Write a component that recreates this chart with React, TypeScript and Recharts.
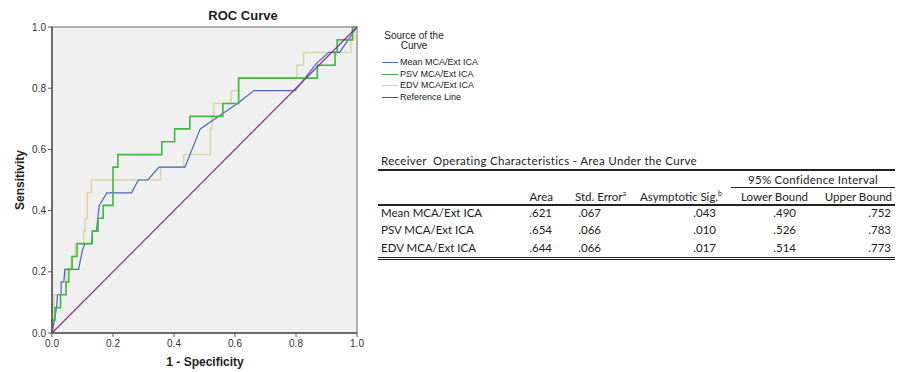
import { LineChart, Line, XAxis, YAxis, CartesianGrid, ReferenceArea } from 'recharts';

// ROC points (1 - specificity, sensitivity)
const meanFpr = [0, 0.015, 0.018, 0.03, 0.03, 0.039, 0.042, 0.087, 0.1, 0.108, 0.13, 0.133, 0.146, 0.15, 0.155, 0.18, 0.261, 0.283, 0.314, 0.351, 0.436, 0.486, 0.608, 0.662, 0.797, 0.868, 0.908, 0.943, 0.971, 1];
const meanTpr = [0, 0.083, 0.125, 0.125, 0.167, 0.167, 0.208, 0.208, 0.271, 0.292, 0.292, 0.333, 0.333, 0.375, 0.417, 0.458, 0.458, 0.5, 0.5, 0.542, 0.542, 0.667, 0.75, 0.792, 0.792, 0.882, 0.917, 0.917, 0.958, 1];

const psvFpr = [0, 0, 0.01, 0.028, 0.046, 0.055, 0.066, 0.082, 0.132, 0.151, 0.168, 0.2, 0.216, 0.36, 0.402, 0.452, 0.56, 0.612, 0.87, 0.928, 0.935, 0.985, 1];
const psvTpr = [0, 0.042, 0.083, 0.125, 0.167, 0.208, 0.25, 0.292, 0.333, 0.375, 0.417, 0.542, 0.583, 0.625, 0.667, 0.708, 0.75, 0.833, 0.875, 0.917, 0.958, 1, 1];

const edvFpr = [0, 0.006, 0.046, 0.063, 0.076, 0.104, 0.109, 0.116, 0.129, 0.356, 0.432, 0.519, 0.524, 0.53, 0.587, 0.611, 0.803, 0.825, 0.98, 0.99, 1];
const edvTpr = [0, 0.125, 0.208, 0.25, 0.292, 0.333, 0.375, 0.458, 0.5, 0.542, 0.583, 0.667, 0.708, 0.75, 0.792, 0.833, 0.875, 0.917, 0.958, 1, 1];

const refFpr = [0, 1];
const refTpr = [0, 1];

const axisTicks = [0, 0.2, 0.4, 0.6, 0.8, 1];

// AUC table
const rowNames = ['Mean MCA/Ext ICA', 'PSV MCA/Ext ICA', 'EDV MCA/Ext ICA'];
const colHeaders = ['Area', 'Std. Error', 'Asymptotic Sig.', 'Lower Bound', 'Upper Bound'];
const aucArea = [0.621, 0.654, 0.644];
const aucStdErr = [0.067, 0.066, 0.066];
const aucSig = [0.043, 0.01, 0.017];
const aucLower = [0.49, 0.526, 0.514];
const aucUpper = [0.752, 0.783, 0.773];

const legendItems = [
    { name: 'Mean MCA/Ext ICA', color: '#4a66c4' },
    { name: 'PSV MCA/Ext ICA', color: '#3dba3d' },
    { name: 'EDV MCA/Ext ICA', color: '#d9d6a6' },
    { name: 'Reference Line', color: '#8c2f8c' },
];

const toPoints = (xs: number[], ys: number[]) => xs.map((x, i) => ({ x, y: ys[i] }));
const fmt = (v: number) => v.toFixed(3).replace(/^0/, '');

const arial = '"Liberation Sans", Arial, sans-serif';
const tableFont = 'Lato, "Open Sans", sans-serif';

export default function App() {
    const cols = [
        { vals: aucArea, right: 552, headRight: 553 },
        { vals: aucStdErr, right: 601, headRight: 626 },
        { vals: aucSig, right: 716, headRight: 722 },
        { vals: aucLower, right: 796, headRight: 808 },
        { vals: aucUpper, right: 891, headRight: 892 },
    ];
    const rowY = [206, 223, 241];

    return (
        <div style={{ position: 'absolute', left: 0, top: 0, width: 900, height: 372, background: '#fff', fontFamily: arial }}>
            <div style={{ position: 'absolute', left: 243, top: 8, transform: 'translateX(-50%)', fontWeight: 'bold', fontSize: 13, color: '#222', whiteSpace: 'nowrap' }}>
                ROC Curve
            </div>
            <div style={{ position: 'absolute', left: 20, top: 180, transform: 'translate(-50%, -50%) rotate(-90deg)', fontWeight: 'bold', fontSize: 12, color: '#222', whiteSpace: 'nowrap' }}>
                Sensitivity
            </div>
            <div style={{ position: 'absolute', left: 205, top: 355, transform: 'translateX(-50%)', fontWeight: 'bold', fontSize: 12, color: '#222', whiteSpace: 'nowrap' }}>
                1 - Specificity
            </div>

            <div style={{ position: 'absolute', left: 0, top: 0 }}>
                <LineChart width={370} height={372} margin={{ top: 27, right: 13, bottom: 0, left: 0 }}>
                    <CartesianGrid horizontal={false} vertical={false} fill="#f0f0f0" />
                    <ReferenceArea x1={0} x2={1} y1={0} y2={1} fill="none" stroke="#9a9a9a" strokeWidth={1.5} ifOverflow="visible" />
                    <XAxis
                        dataKey="x"
                        type="number"
                        domain={[0, 1]}
                        ticks={axisTicks}
                        height={39}
                        tickSize={4}
                        tickMargin={3}
                        tickFormatter={(v: number) => v.toFixed(1)}
                        tick={{ fill: '#333', fontSize: 10, fontFamily: arial }}
                        axisLine={{ stroke: '#555', strokeWidth: 1.5 }}
                        tickLine={{ stroke: '#555' }}
                    />
                    <YAxis
                        dataKey="y"
                        type="number"
                        domain={[0, 1]}
                        ticks={axisTicks}
                        width={52}
                        tickSize={4}
                        tickMargin={2}
                        tickFormatter={(v: number) => v.toFixed(1)}
                        tick={{ fill: '#333', fontSize: 10, fontFamily: arial }}
                        axisLine={{ stroke: '#555', strokeWidth: 1.5 }}
                        tickLine={{ stroke: '#555' }}
                    />
                    <Line data={toPoints(edvFpr, edvTpr)} dataKey="y" type="stepAfter" stroke={legendItems[2].color} strokeWidth={1.5} dot={false} isAnimationActive={false} />
                    <Line data={toPoints(meanFpr, meanTpr)} dataKey="y" type="linear" stroke={legendItems[0].color} strokeWidth={1.2} dot={false} isAnimationActive={false} />
                    <Line data={toPoints(psvFpr, psvTpr)} dataKey="y" type="stepAfter" stroke={legendItems[1].color} strokeWidth={1.6} dot={false} isAnimationActive={false} />
                    <Line data={toPoints(refFpr, refTpr)} dataKey="y" type="linear" stroke={legendItems[3].color} strokeWidth={1.2} dot={false} isAnimationActive={false} />
                </LineChart>
            </div>

            {/* legend */}
            <div style={{ position: 'absolute', left: 383, top: 31, width: 62, textAlign: 'center', fontSize: 10, lineHeight: '10px', color: '#222' }}>
                Source of the<br />Curve
            </div>
            {legendItems.map((it, i) => (
                <div key={it.name} style={{ position: 'absolute', left: 382, top: 57 + i * 11.7, display: 'flex', alignItems: 'center', fontSize: 9, lineHeight: '11px', color: '#222', whiteSpace: 'nowrap' }}>
                    <span style={{ display: 'inline-block', width: 16, height: 1.2, background: it.color, marginRight: 2 }} />
                    {it.name}
                </div>
            ))}

            {/* AUC table */}
            <div style={{ position: 'absolute', left: 0, top: 0, width: 900, height: 372, fontFamily: tableFont, fontSize: 11.5, color: '#222' }}>
                <div style={{ position: 'absolute', left: 381, top: 154, whiteSpace: 'pre', letterSpacing: 0.33 }}>Receiver  Operating Characteristics - Area Under the Curve</div>
                <div style={{ position: 'absolute', left: 378, top: 169, width: 517, height: 1.5, background: '#222' }} />
                <div style={{ position: 'absolute', left: 731, top: 173, width: 164, textAlign: 'center', whiteSpace: 'nowrap', letterSpacing: 0.25 }}>95% Confidence Interval</div>
                <div style={{ position: 'absolute', left: 731, top: 187, width: 164, height: 1, background: '#222' }} />
                {colHeaders.map((h, i) => (
                    <div key={h} style={{ position: 'absolute', right: 900 - cols[i].headRight, top: 189, whiteSpace: 'nowrap', lineHeight: '16px' }}>
                        {h}
                        {i === 1 && <sup style={{ fontSize: 7, lineHeight: 0 }}>a</sup>}
                        {i === 2 && <sup style={{ fontSize: 7, lineHeight: 0 }}>b</sup>}
                    </div>
                ))}
                <div style={{ position: 'absolute', left: 378, top: 204, width: 517, height: 1.5, background: '#222' }} />
                {rowNames.map((r, ri) => (
                    <div key={r}>
                        <div style={{ position: 'absolute', left: 381, top: rowY[ri], whiteSpace: 'nowrap' }}>{r}</div>
                        {cols.map((c, ci) => (
                            <div key={ci} style={{ position: 'absolute', right: 900 - c.right, top: rowY[ri], whiteSpace: 'nowrap' }}>
                                {fmt(c.vals[ri])}
                            </div>
                        ))}
                    </div>
                ))}
                <div style={{ position: 'absolute', left: 378, top: 257, width: 517, height: 1, background: '#222' }} />
                <div style={{ position: 'absolute', left: 378, top: 259, width: 517, height: 1, background: '#222' }} />
            </div>
        </div>
    );
}
